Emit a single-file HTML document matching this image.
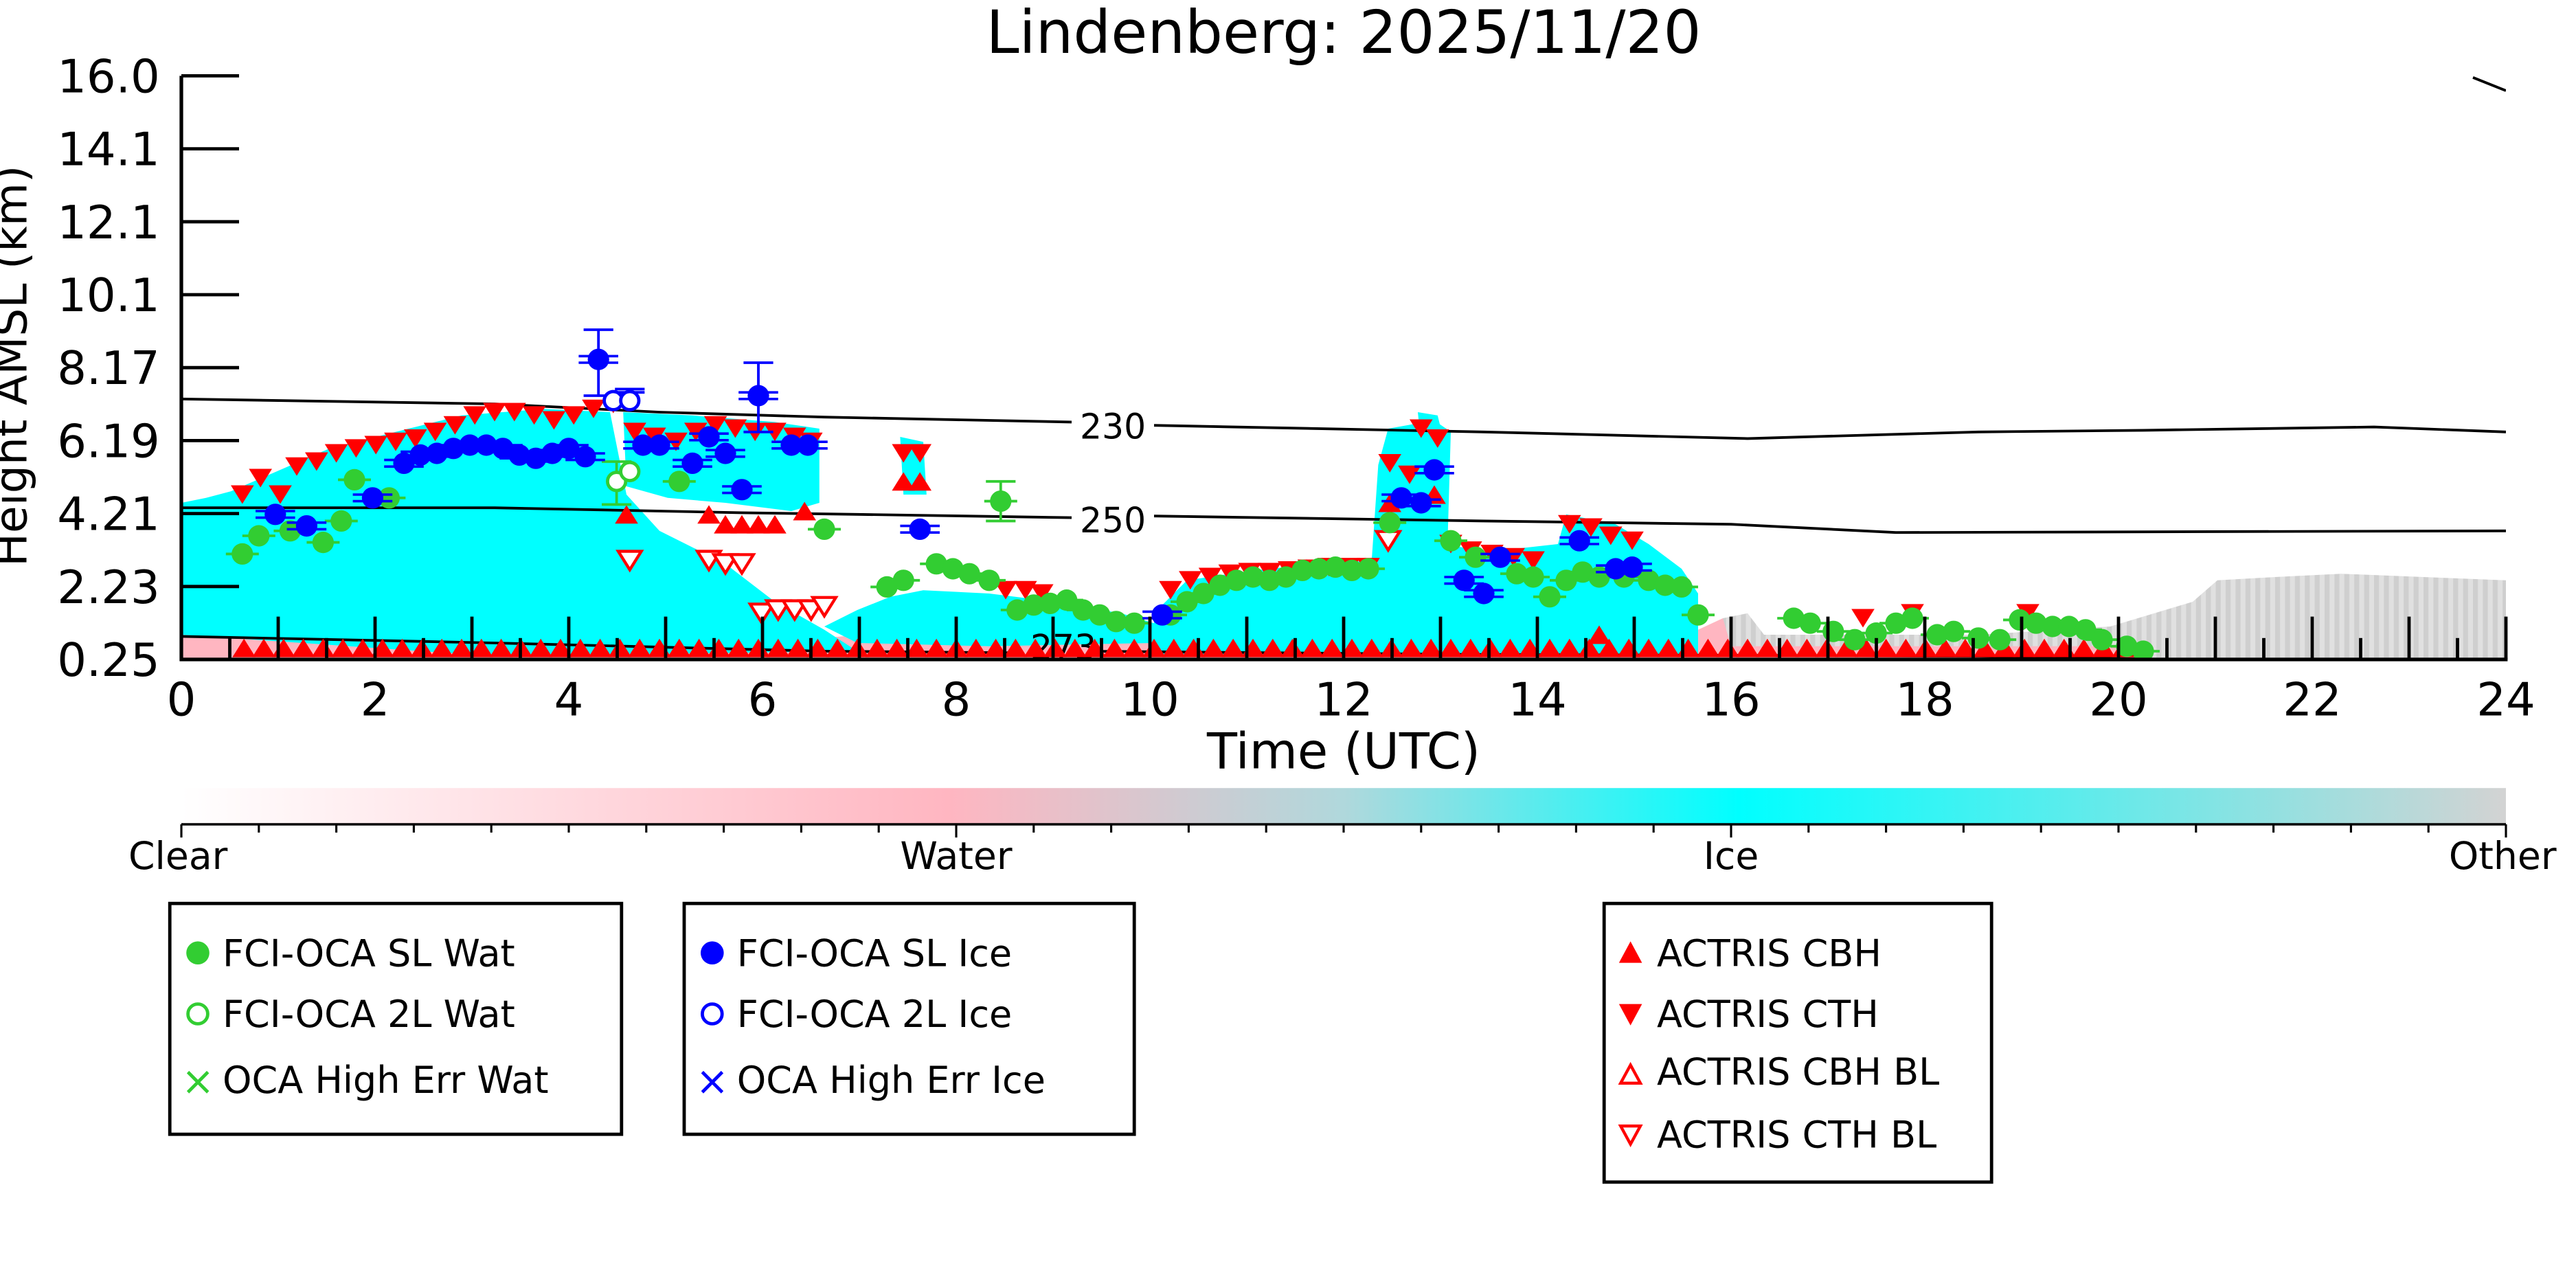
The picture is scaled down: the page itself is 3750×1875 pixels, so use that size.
<!DOCTYPE html>
<html><head><meta charset="utf-8">
<style>html,body{margin:0;padding:0;background:#fff;}svg{display:block;}</style>
</head><body>
<svg id="s" xmlns="http://www.w3.org/2000/svg" width="3750" height="1875" viewBox="0 0 1562.5 781.25" font-family="DejaVu Sans, Liberation Sans, sans-serif">
<defs>
<linearGradient id="cb" x1="0" x2="1" y1="0" y2="0">
<stop offset="0" stop-color="#ffffff"/>
<stop offset="0.33" stop-color="#ffb6c1"/>
<stop offset="0.5" stop-color="#b0d8dc"/>
<stop offset="0.67" stop-color="#00ffff"/>
<stop offset="1" stop-color="#d3d3d3"/>
</linearGradient>
<pattern id="gp" width="6" height="6" patternUnits="userSpaceOnUse">
<rect width="6" height="6" fill="#e0e0e0"/><rect width="3" height="6" fill="#cfcfcf"/>
</pattern>
<clipPath id="pc"><rect x="110" y="46" width="1410" height="354"/></clipPath>
</defs>
<rect width="1562.5" height="781.25" fill="#fff"/>
<text x="815" y="32" font-size="36" text-anchor="middle">Lindenberg: 2025/11/20</text>
<g clip-path="url(#pc)">
<polygon fill="url(#gp)" points="1040,400 1045,375 1060,372 1070,385 1200,385 1280,380 1330,365 1345,352 1380,350 1420,348 1470,350 1520,352 1520,400"/>
<polygon fill="#ffb6c1" points="110,400 110,372 160,368 220,366 220,382 500,387 600,378 700,387 900,387 1030,382 1045,375 1050,392 1300,392 1300,400"/>
<polygon fill="#00ffff" points="110,385 110,305 125,302 140,298 170,285 200,272 240,262 280,252 330,248 370,250 380,300 400,322 440,342 470,365 500,382 520,395 300,398"/>
<polygon fill="#00ffff" points="110,365 220,362 220,372 110,372"/>
<polygon fill="#00ffff" points="378,250 420,252 470,256 497,260 497,305 480,310 440,305 405,302 380,295"/>
<polygon fill="#00ffff" points="500,380 520,370 540,362 560,358 600,360 640,365 680,372 700,378 700,390 600,392 520,390"/>
<polygon fill="#00ffff" points="546,265 560,268 562,300 548,300"/>
<polygon fill="#00ffff" points="700,372 720,352 760,346 800,342 832,340 836,282 842,260 870,255 880,262 878,330 900,335 945,330 950,312 980,318 1000,330 1020,345 1030,360 1030,398 700,398"/>
<polygon fill="#00ffff" points="860,250 872,252 876,268 862,270"/>
<g fill="none" stroke="#000" stroke-width="1.6">
<polyline points="110,242 300,245 400,250 500,253 650,256"/>
<polyline points="700,258 900,262 1060,266 1200,262 1300,261 1440,259 1520,262"/>
<polyline points="110,308 300,308 450,311 520,312 650,314"/>
<polyline points="700,313 900,316 1050,318 1150,323 1520,322"/>
<polyline points="110,386 300,390 500,395 620,396"/>
<polyline points="660,395 900,397 1200,398 1380,401"/>
<polyline points="1500,47 1520,55"/>
</g>
<text x="655" y="266" font-size="21">230</text>
<text x="655" y="323" font-size="21">250</text>
<text x="625" y="400" font-size="21">273</text>
<g id="mk"></g>
</g>
<g stroke="#000" stroke-width="2.2" fill="none">
<line x1="110" y1="46" x2="110" y2="401"/>
<line x1="109" y1="400" x2="1521" y2="400"/>
</g>
<g id="ticks" stroke="#000" stroke-width="2"></g>
<g font-size="28" text-anchor="end" id="ylab"></g>
<g font-size="28" text-anchor="middle" id="xlab"></g>
<text x="815" y="466" font-size="30" text-anchor="middle">Time (UTC)</text>
<text transform="translate(16,222) rotate(-90)" font-size="27" text-anchor="middle">Height AMSL (km)</text>
<rect x="110" y="478" width="1410" height="22" fill="url(#cb)"/>
<line x1="110" y1="500" x2="1520" y2="500" stroke="#000" stroke-width="1.5"/>
<g id="cbt" stroke="#000" stroke-width="1.3"></g>
<g font-size="23" text-anchor="middle">
<text x="108" y="527">Clear</text><text x="580" y="527">Water</text><text x="1050" y="527">Ice</text><text x="1518" y="527">Other</text>
</g>
<g fill="none" stroke="#000" stroke-width="2">
<rect x="103" y="548" width="274" height="140"/>
<rect x="415" y="548" width="273" height="140"/>
<rect x="973" y="548" width="235" height="169"/>
</g>
<g font-size="22.5">
<circle cx="120" cy="578" r="7" fill="#32cd32"/><text x="135" y="586">FCI-OCA SL Wat</text>
<circle cx="120" cy="615" r="6" fill="none" stroke="#32cd32" stroke-width="2"/><text x="135" y="623">FCI-OCA 2L Wat</text>
<text x="110" y="664" fill="#32cd32" font-size="24">×</text><text x="135" y="663">OCA High Err Wat</text>
<circle cx="432" cy="578" r="7" fill="#0000ff"/><text x="447" y="586">FCI-OCA SL Ice</text>
<circle cx="432" cy="615" r="6" fill="none" stroke="#0000ff" stroke-width="2"/><text x="447" y="623">FCI-OCA 2L Ice</text>
<text x="422" y="664" fill="#0000ff" font-size="24">×</text><text x="447" y="663">OCA High Err Ice</text>
<polygon points="982,584 996,584 989,571" fill="#f00"/><text x="1005" y="586">ACTRIS CBH</text>
<polygon points="982,609 996,609 989,622" fill="#f00"/><text x="1005" y="623">ACTRIS CTH</text>
<polygon points="983,657 995,657 989,646" fill="none" stroke="#f00" stroke-width="1.8"/><text x="1005" y="658">ACTRIS CBH BL</text>
<polygon points="983,683 995,683 989,694" fill="none" stroke="#f00" stroke-width="1.8"/><text x="1005" y="696">ACTRIS CTH BL</text>
</g>
</svg>
<script>
(function(){
var NS="http://www.w3.org/2000/svg";
function el(p,t,a){var e=document.createElementNS(NS,t);for(var k in a)e.setAttribute(k,a[k]);p.appendChild(e);return e;}
var tk=document.getElementById("ticks"),yl=document.getElementById("ylab"),xl=document.getElementById("xlab");
var yt=["16.0","14.1","12.1","10.1","8.17","6.19","4.21","2.23","0.25"];
for(var i=0;i<9;i++){var y=46+i*44.25;el(tk,"line",{x1:110,y1:y,x2:145,y2:y});var t=el(yl,"text",{x:97,y:y+10});t.textContent=yt[i];}
for(var h=0;h<=48;h++){var x=110+h*29.375;var L=(h%2==0)?26:13;el(tk,"line",{x1:x,y1:400,x2:x,y2:400-L});if(h%4==0){var t2=el(xl,"text",{x:x,y:434});t2.textContent=h/2;}}
var cb=document.getElementById("cbt");
for(var j=0;j<=30;j++){var cx=110+j*47;el(cb,"line",{x1:cx,y1:500,x2:cx,y2:(j%10==0)?508:505});}
var m=document.getElementById("mk");
function tri(x,y,dir,fill){var s=7;var pts=dir>0?(x-s)+","+(y+s*0.8)+" "+(x+s)+","+(y+s*0.8)+" "+x+","+(y-s*0.8):(x-s)+","+(y-s*0.8)+" "+(x+s)+","+(y-s*0.8)+" "+x+","+(y+s*0.8);
 if(fill)el(m,"polygon",{points:pts,fill:"#f00"});else el(m,"polygon",{points:pts,fill:"#fff",stroke:"#f00","stroke-width":1.8});}
for(var x=148;x<=1295;x+=12){tri(x,393,1,true);}
var cth=[[147,300],[158,290],[170,300],[180,283],[192,280],[204,275],[216,272],[228,270],[240,268],[252,266],[264,262],[276,258],[288,252],[300,250],[312,250],[324,252],[336,255],[348,252],[360,248],[372,245],[385,262],[397,265],[410,268],[422,262],[434,258],[446,260],[458,262],[470,262],[482,265],[492,268],[548,275],[558,275],[610,358],[622,358],[632,360],[710,358],[722,352],[734,350],[746,348],[758,347],[770,347],[782,346],[794,345],[806,344],[818,344],[830,344],[843,281],[855,288],[862,260],[872,266],[880,330],[892,334],[905,336],[918,338],[930,340],[952,318],[965,320],[977,325],[990,328],[1130,375],[1160,372],[1230,372]];
cth.forEach(function(p){tri(p[0],p[1],-1,true);});
[[380,312],[430,312],[440,318],[450,318],[460,318],[470,318],[488,310],[548,292],[558,292],[843,305],[870,300],[970,385]].forEach(function(p){tri(p[0],p[1],1,true);});
[[382,340],[430,340],[440,342],[450,342],[462,372],[472,370],[482,370],[492,370],[500,368],[842,328]].forEach(function(p){tri(p[0],p[1],-1,false);});
function eb(x,y1,y2,c){el(m,"line",{x1:x,y1:y1,x2:x,y2:y2,stroke:c,"stroke-width":1.6});el(m,"line",{x1:x-9,y1:y1,x2:x+9,y2:y1,stroke:c,"stroke-width":1.6});el(m,"line",{x1:x-9,y1:y2,x2:x+9,y2:y2,stroke:c,"stroke-width":1.6});}
eb(363,200,240,"#0000ff");eb(460,220,262,"#0000ff");eb(374,280,306,"#32cd32");eb(607,292,316,"#32cd32");eb(382,236,238,"#0000ff");
var g=[[147,336],[157,325],[176,322],[196,329],[207,316],[215,291],[236,302],[412,292],[500,321],[548,352],[538,356],[568,342],[578,345],[588,348],[600,352],[607,304],[617,370],[627,367],[637,366],[647,364],[657,370],[667,373],[677,377],[688,378],[710,373],[720,365],[730,360],[740,355],[750,352],[760,350],[770,352],[780,350],[790,346],[800,345],[810,344],[820,346],[830,345],[843,317],[880,328],[895,338],[920,348],[930,350],[940,362],[950,352],[960,347],[970,350],[985,350],[1000,352],[1010,355],[1020,356],[1030,373],[1088,375],[1098,378],[1112,383],[1125,388],[1138,384],[1150,378],[1160,375],[1175,385],[1185,383],[1200,387],[1213,388],[1225,376],[1235,378],[1245,380],[1255,380],[1265,382],[1275,388],[1290,392],[1300,395]];
g.forEach(function(p){el(m,"line",{x1:p[0]-10,y1:p[1],x2:p[0]+10,y2:p[1],stroke:"#32cd32","stroke-width":1.6});el(m,"circle",{cx:p[0],cy:p[1],r:6.5,fill:"#32cd32"});});
var b=[[167,312],[186,319],[226,302],[245,281],[255,276],[265,275],[275,272],[285,270],[295,270],[305,272],[315,276],[325,278],[335,275],[345,272],[355,277],[363,218],[390,270],[400,270],[420,281],[430,265],[440,275],[450,297],[460,240],[480,270],[490,270],[558,321],[705,373],[850,302],[862,305],[870,285],[888,352],[900,360],[910,338],[958,328],[980,345],[990,344]];
b.forEach(function(p){el(m,"line",{x1:p[0]-12,y1:p[1]-2,x2:p[0]+12,y2:p[1]-2,stroke:"#0000ff","stroke-width":1.5});el(m,"line",{x1:p[0]-12,y1:p[1]+2,x2:p[0]+12,y2:p[1]+2,stroke:"#0000ff","stroke-width":1.5});el(m,"circle",{cx:p[0],cy:p[1],r:6.5,fill:"#0000ff"});});
[[372,243],[382,243]].forEach(function(p){el(m,"circle",{cx:p[0],cy:p[1],r:5.5,fill:"#fff",stroke:"#0000ff","stroke-width":2});});
[[374,292],[382,286]].forEach(function(p){el(m,"circle",{cx:p[0],cy:p[1],r:5.5,fill:"#fff",stroke:"#32cd32","stroke-width":2});});
})();
</script>
</body></html>
